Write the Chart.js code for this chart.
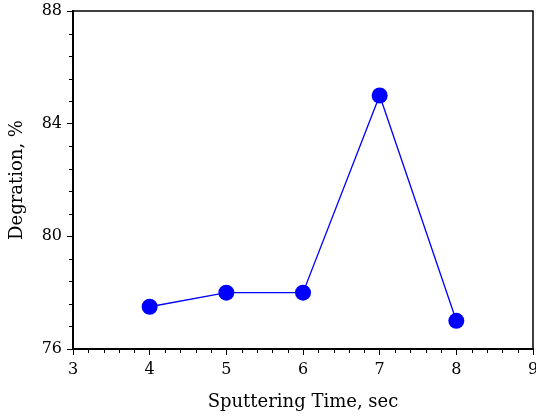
<!DOCTYPE html>
<html>
<head>
    <title>Degradation vs Sputtering Time</title>
    <script src="https://cdn.jsdelivr.net/npm/chart.js@4"></script>
    <style>
        body { margin: 0; background: #fff; }
    </style>
</head>
<body>
<canvas id="chart" width="536" height="416"></canvas>
<script>
    // Values
    const sputteringTime = [4, 5, 6, 7, 8];
    const degradation = [77.5, 78, 78, 85, 77];
    const xTickValues = [3, 4, 5, 6, 7, 8, 9];
    const yTickValues = [76, 80, 84, 88];

    const X_MIN = 3, X_MAX = 9;
    const Y_MIN = 76, Y_MAX = 88;
    const FONT = "'DejaVu Serif', 'Liberation Serif', serif";

    // Chart.js has no minor ticks, so draw them (and the top/right frame) here
    const frameAndMinorTicks = {
        id: 'frameAndMinorTicks',
        afterDraw(chart) {
            const { ctx, chartArea: a, scales: { x, y } } = chart;
            ctx.save();
            ctx.strokeStyle = '#000';
            ctx.lineWidth = 1;
            ctx.beginPath();
            for (let i = 1; i < (X_MAX - X_MIN) * 5; i++) {
                if (i % 5 === 0) continue;
                const px = Math.round(x.getPixelForValue(X_MIN + i * 0.2)) + 0.5;
                ctx.moveTo(px, a.bottom);
                ctx.lineTo(px, a.bottom + 4);
            }
            for (let i = 1; i < 15; i++) {
                if (i % 5 === 0) continue;
                const py = Math.round(y.getPixelForValue(Y_MIN + i * 0.8)) + 0.5;
                ctx.moveTo(a.left, py);
                ctx.lineTo(a.left - 4, py);
            }
            ctx.stroke();
            ctx.lineWidth = 1.5;
            ctx.beginPath();
            ctx.moveTo(a.left, a.top);
            ctx.lineTo(a.right, a.top);
            ctx.lineTo(a.right, a.bottom);
            ctx.stroke();
            ctx.restore();
        }
    };

    new Chart(document.getElementById('chart'), {
        type: 'scatter',
        data: {
            datasets: [{
                data: sputteringTime.map((t, i) => ({ x: t, y: degradation[i] })),
                showLine: true,
                borderColor: '#0000ff',
                borderWidth: 1.3,
                backgroundColor: '#0000ff',
                pointRadius: 8,
                pointHoverRadius: 8,
                pointBorderWidth: 0
            }]
        },
        options: {
            responsive: false,
            animation: false,
            layout: { autoPadding: false, padding: { top: 11, right: 3, left: 0, bottom: 0 } },
            plugins: {
                legend: { display: false },
                tooltip: { enabled: false }
            },
            scales: {
                x: {
                    type: 'linear',
                    min: X_MIN,
                    max: X_MAX,
                    afterBuildTicks: s => { s.ticks = xTickValues.map(v => ({ value: v })); },
                    afterFit: s => { s.height = 67; s.paddingLeft = 0; s.paddingRight = 0; },
                    grid: { drawOnChartArea: false, tickLength: 6, color: '#000', lineWidth: 1 },
                    border: { color: '#000', width: 2 },
                    ticks: { color: '#000', padding: 5, font: { family: FONT, size: 16 } },
                    title: {
                        display: true,
                        text: 'Sputtering Time, sec',
                        color: '#000',
                        font: { family: FONT, size: 18 },
                        padding: { top: 4, bottom: 3 }
                    }
                },
                y: {
                    min: Y_MIN,
                    max: Y_MAX,
                    afterBuildTicks: s => { s.ticks = yTickValues.map(v => ({ value: v })); },
                    afterFit: s => { s.width = 73; s.paddingTop = 0; s.paddingBottom = 0; },
                    grid: { drawOnChartArea: false, tickLength: 6, color: '#000', lineWidth: 1 },
                    border: { color: '#000', width: 2 },
                    ticks: { color: '#000', padding: 5, font: { family: FONT, size: 16 } },
                    title: {
                        display: true,
                        text: 'Degration, %',
                        color: '#000',
                        font: { family: FONT, size: 18 },
                        padding: { top: 7, bottom: 0 }
                    }
                }
            }
        },
        plugins: [frameAndMinorTicks]
    });
</script>
</body>
</html>
